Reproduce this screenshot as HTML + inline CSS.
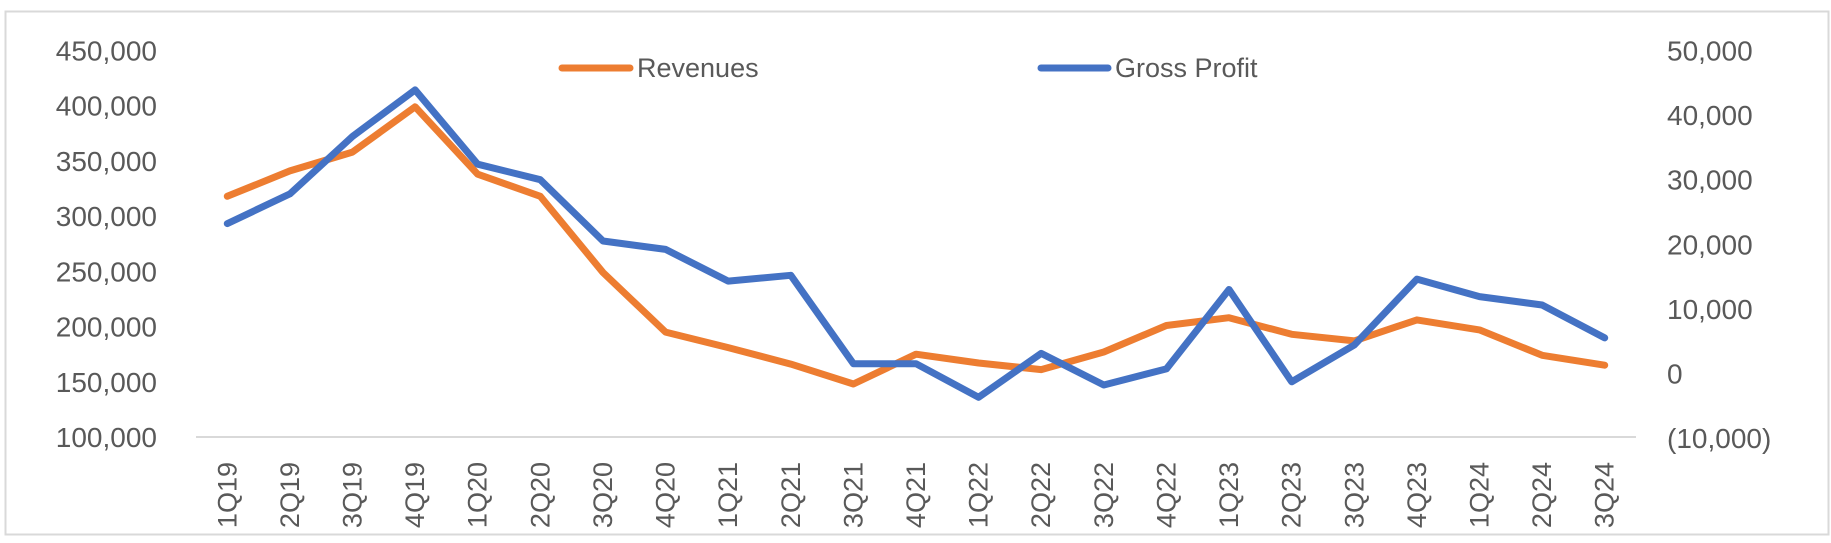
<!DOCTYPE html>
<html><head><meta charset="utf-8"><style>
html,body{margin:0;padding:0;background:#fff;}
svg{display:block;font-family:"Liberation Sans",sans-serif;}
</style></head><body>
<svg id="chart" width="1831" height="543" viewBox="0 0 1831 543" xmlns="http://www.w3.org/2000/svg">
<rect x="5.5" y="11.5" width="1823" height="523" fill="#fff" stroke="#d9d9d9" stroke-width="2"/>
<g id="axes"></g>
<g id="series"></g>
<g>
<line x1="562" y1="68" x2="630" y2="68" stroke="#ED7D31" stroke-width="7" stroke-linecap="round"/>
<text x="637" y="77" font-size="27" fill="#595959">Revenues</text>
<line x1="1041" y1="68" x2="1108" y2="68" stroke="#4472C4" stroke-width="7" stroke-linecap="round"/>
<text x="1115" y="77" font-size="27" fill="#595959">Gross Profit</text>
</g>
</svg>
<script>
const categories = ["1Q19","2Q19","3Q19","4Q19","1Q20","2Q20","3Q20","4Q20","1Q21","2Q21","3Q21","4Q21","1Q22","2Q22","3Q22","4Q22","1Q23","2Q23","3Q23","4Q23","1Q24","2Q24","3Q24"];
const revenues = [318000,341000,358000,399000,338000,318000,249000,195000,181000,166000,148000,175000,167000,161000,177000,201000,208000,193000,187000,206000,197000,174000,165000];
const grossProfit = [23200,27800,36700,43900,32400,30000,20500,19200,14300,15200,1500,1500,-3700,3100,-1800,700,13000,-1300,4400,14600,11900,10600,5500];
const leftTicks = [100000,150000,200000,250000,300000,350000,400000,450000];
const rightTicks = [-10000,0,10000,20000,30000,40000,50000];

const NS = "http://www.w3.org/2000/svg";
const x0 = 196, x1 = 1636;
const step = (x1 - x0) / categories.length;
function xPos(i){ return x0 + step * (i + 0.5); }
function yLeft(v){ return 437 - (v - 100000) / 350000 * (437 - 50.5); }
function yRight(v){ return 438 - (v + 10000) / 60000 * (438 - 50.5); }
function fmt(v){ const s = Math.abs(v).toLocaleString("en-US"); return v < 0 ? "(" + s + ")" : s; }
function mk(tag, attrs, parent){ const e = document.createElementNS(NS, tag); for (const k in attrs) e.setAttribute(k, attrs[k]); parent.appendChild(e); return e; }

const axes = document.getElementById("axes");
const axisLine = mk("line", {x1:x0, y1:437, x2:x1, y2:437, stroke:"#d9d9d9", "stroke-width":2}, axes);



leftTicks.forEach(v => {
  const t = mk("text", {x:157, y:yLeft(v) + 10, "text-anchor":"end", "font-size":28, fill:"#595959"}, axes);
  t.textContent = fmt(v);
  
  
});
rightTicks.forEach(v => {
  const t = mk("text", {x:1667, y:yRight(v) + 10, "text-anchor":"start", "font-size":28, fill:"#595959"}, axes);
  t.textContent = fmt(v);
  
  
});
categories.forEach((c, i) => {
  const x = xPos(i) + 9;
  const t = mk("text", {x:x, y:462, "text-anchor":"end", "font-size":27, fill:"#595959", transform:`rotate(-90 ${x} 462)`}, axes);
  t.textContent = c;
  
  
});

const series = document.getElementById("series");
const revPts = revenues.map((v, i) => xPos(i).toFixed(1) + "," + yLeft(v).toFixed(1)).join(" ");
const revLine = mk("polyline", {points:revPts, fill:"none", stroke:"#ED7D31", "stroke-width":7, "stroke-linejoin":"round", "stroke-linecap":"round"}, series);


const gpPts = grossProfit.map((v, i) => xPos(i).toFixed(1) + "," + yRight(v).toFixed(1)).join(" ");
const gpLine = mk("polyline", {points:gpPts, fill:"none", stroke:"#4472C4", "stroke-width":7, "stroke-linejoin":"round", "stroke-linecap":"round"}, series);


</script>
</body></html>
